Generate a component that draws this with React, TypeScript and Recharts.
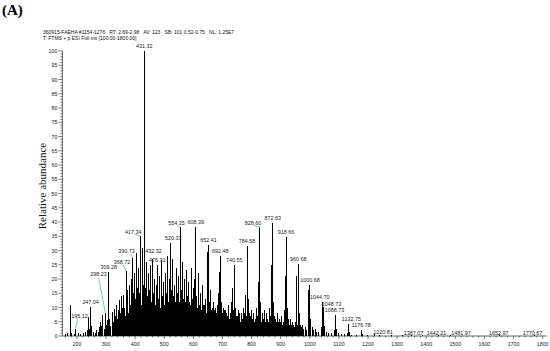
import React from 'react'
import { ComposedChart, Bar, XAxis, YAxis, LabelList } from 'recharts'

// unlabelled peaks (m/z, relative abundance %)
const peakMz = [
  160, 168, 177, 183, 190, 205, 212, 221, 229, 235, 239, 243, 251, 256, 263, 268, 273, 277, 281, 285,
  289, 293, 301, 305, 313, 317, 321, 325, 329, 333, 337, 340, 343, 347, 350, 353, 357, 361, 364, 372,
  375, 379, 382, 386, 394, 398, 401, 404, 408, 411, 414, 420, 424, 427, 435, 438, 441, 445, 448, 452,
  455, 458, 462, 465, 469, 472, 480, 483, 486, 490, 494, 497, 500, 503, 507, 511, 514, 517, 524, 527,
  531, 535, 538, 542, 546, 549, 558, 562, 566, 569, 573, 577, 581, 585, 589, 593, 597, 601, 605, 612,
  616, 620, 624, 628, 632, 636, 640, 645, 649, 656, 660, 664, 668, 672, 676, 680, 684, 688, 690, 696,
  700, 704, 708, 712, 716, 720, 724, 728, 732, 736, 744, 748, 752, 756, 760, 764, 768, 772, 776, 780,
  788, 792, 796, 800, 804, 808, 812, 816, 820, 824, 832, 836, 840, 844, 848, 852, 856, 860, 864, 868,
  876, 880, 884, 888, 892, 896, 900, 904, 908, 912, 915, 922, 926, 930, 934, 938, 942, 946, 950, 956,
  964, 968, 972, 976, 980, 984, 990, 996, 1004, 1008, 1012, 1018, 1024, 1030, 1040, 1052, 1058, 1066, 1074, 1084,
  1092, 1100, 1110, 1120, 1128, 1136, 1145, 1160, 1180, 1200, 1240, 1280, 1320, 1350,
]
const peakAbundance = [
  0.8, 1.2, 10.8, 1.0, 0.8, 1.0, 0.6, 1.2, 1.5, 2.0, 6.8, 2.5, 3.5, 1.5, 1.0, 2.0, 1.5, 3.0, 5.0, 3.5,
  7.2, 2.5, 4.0, 5.5, 6.0, 3.5, 8.5, 5.0, 9.5, 7.0, 11.0, 6.0, 9.0, 12.5, 8.0, 14.0, 10.0, 14.5, 8.0, 12.0,
  16.0, 18.0, 11.0, 20.0, 15.0, 22.0, 13.0, 29.0, 17.0, 24.0, 15.0, 21.0, 31.0, 18.0, 17.0, 26.0, 14.0, 22.0, 16.0, 25.0,
  12.0, 27.0, 15.0, 20.0, 11.0, 18.0, 13.0, 21.0, 10.0, 26.7, 14.0, 19.0, 11.0, 22.0, 15.0, 28.0, 12.0, 20.0, 16.0, 27.0,
  14.0, 18.0, 10.0, 24.0, 15.0, 21.0, 16.0, 26.0, 13.0, 20.0, 12.0, 23.0, 14.0, 19.0, 11.0, 24.0, 13.0, 17.0, 20.0, 14.0,
  22.0, 10.0, 15.0, 9.0, 18.0, 11.0, 13.0, 8.0, 29.5, 12.0, 16.0, 9.0, 12.0, 8.0, 10.0, 7.0, 11.0, 15.0, 22.6, 12.0,
  8.0, 10.0, 6.0, 9.0, 7.0, 11.0, 6.0, 8.0, 12.0, 17.0, 10.0, 7.0, 5.0, 9.0, 6.0, 8.0, 5.0, 10.0, 7.0, 14.4,
  13.0, 8.0, 6.0, 9.0, 5.0, 8.0, 6.0, 10.0, 7.0, 19.0, 12.0, 8.0, 6.0, 9.0, 5.0, 8.0, 6.0, 10.0, 7.0, 24.9,
  12.0, 7.0, 5.0, 8.0, 5.0, 6.0, 4.0, 7.0, 5.0, 9.0, 21.0, 10.0, 6.0, 4.0, 6.0, 4.0, 5.0, 3.0, 5.0, 21.0,
  8.0, 4.0, 3.0, 4.0, 2.5, 3.0, 2.0, 16.0, 6.0, 3.0, 2.0, 2.5, 1.5, 1.5, 3.0, 3.5, 1.5, 1.0, 1.0, 2.0,
  2.5, 1.0, 0.8, 0.6, 1.2, 1.5, 0.5, 0.4, 0.6, 0.4, 0.3, 0.3, 0.2, 0.2,
]

// low-level ion forest between the main peaks
const baseMz = [
  331, 335, 339, 345, 349, 355, 359, 363, 367, 370, 377, 384, 388, 392, 396, 400, 406, 410, 416, 419,
  422, 429, 434, 437, 443, 447, 450, 454, 460, 464, 467, 471, 474, 478, 482, 488, 492, 496, 499, 505,
  509, 513, 516, 519, 522, 529, 533, 537, 540, 544, 548, 552, 556, 560, 564, 568, 571, 575, 579, 583,
  587, 591, 595, 599, 603, 607, 610, 614, 618, 622, 626, 630, 634, 638, 642, 647, 651, 654, 658, 662,
  666, 670, 674, 678, 682, 686, 694, 698, 702, 706, 710, 714, 718, 722, 726, 730, 734, 738, 742, 746,
  750, 754, 758, 762, 766, 770, 774, 778, 782, 786, 790, 794, 798, 802, 806, 810, 814, 818, 822, 826,
  830, 834, 838, 842, 846, 850, 854, 858, 862, 866, 870, 874, 878, 882, 886, 890, 894, 898, 902, 906,
  910, 920, 924, 928, 932, 936, 940, 944, 948, 952, 958, 962, 966, 970, 974, 978, 986, 994, 1002, 1020,
]
const baseAbundance = [
  4, 6, 5, 7, 6, 9, 8, 10, 7, 9, 8, 11, 9, 12, 10, 11, 13, 10, 12, 9,
  11, 10, 12, 9, 11, 10, 13, 9, 11, 10, 12, 8, 11, 10, 12, 9, 11, 10, 12, 9,
  11, 10, 12, 8, 11, 10, 9, 12, 8, 11, 10, 12, 9, 11, 10, 12, 8, 11, 9, 10,
  12, 8, 11, 9, 10, 12, 8, 10, 9, 11, 8, 10, 9, 11, 8, 10, 9, 11, 8, 9,
  10, 7, 9, 8, 10, 7, 9, 8, 7, 9, 6, 8, 7, 9, 6, 8, 7, 9, 6, 8,
  7, 6, 8, 5, 7, 6, 8, 5, 7, 6, 8, 5, 7, 6, 7, 5, 6, 7, 5, 6,
  7, 5, 6, 5, 7, 4, 6, 5, 6, 4, 6, 5, 4, 6, 4, 5, 4, 5, 3, 4,
  5, 4, 3, 4, 3, 4, 3, 4, 3, 3, 4, 3, 2.5, 3, 2, 2.5, 2, 2, 2, 1.5,
]

// annotated peaks
const labeledMz = [
  195.12, 247.04, 298.23, 309.28, 368.72, 390.73, 417.34, 431.32, 432.32, 476.31, 520.33, 554.35, 608.39,
  652.41, 692.48, 740.55, 784.58, 828.6, 872.63, 918.66, 960.68, 1000.68, 1044.7, 1048.73, 1088.73,
  1132.75, 1176.78, 1220.81, 1387.07, 1442.21, 1481.97, 1652.97, 1770.67,
]
const labeledAbundance = [
  2.5, 10.3, 7.9, 22.5, 22.9, 27.4, 35, 100, 29.5, 24.9, 32.7, 38.2, 38.2,
  31.9, 28, 25, 31.6, 38.2, 39.8, 34.7, 25.1, 18, 12, 10.2, 7.4,
  4.2, 2.1, 0.6, 0.3, 0.3, 0.3, 0.3, 0.3,
]

const xMajorTicks = [200, 300, 400, 500, 600, 700, 800, 900, 1000, 1100, 1200, 1300, 1400, 1500, 1600, 1700, 1800]
const yMajorTicks = [0, 5, 10, 15, 20, 25, 30, 35, 40, 45, 50, 55, 60, 65, 70, 75, 80, 85, 90, 95, 100]

const headerLines = [
  '360915-FAEHA #1154-1276   RT: 2.69-2.98   AV: 123   SB: 101 0.52-0.75   NL: 1.25E7',
  'T: FTMS + p ESI Full ms [100.00-1800.00]',
]

const data = [
  ...peakMz.map((mz, i) => ({ mz, abundance: peakAbundance[i], label: '' })),
  ...baseMz.map((mz, i) => ({ mz, abundance: baseAbundance[i], label: '' })),
  ...labeledMz.map((mz, i) => ({ mz, abundance: labeledAbundance[i], label: mz.toFixed(2) })),
].sort((a, b) => a.mz - b.mz)

const xTicks: number[] = []
for (let t = 160; t <= 1800; t += 20) xTicks.push(t)
const yTicks: number[] = []
for (let t = 0; t <= 100; t += 1) yTicks.push(t)

// label placement relative to the peak top; lead = start of green leader line from the label centre
const labelLayout: Record<string, { dx?: number; dy?: number; lead?: [number, number] }> = {
  '195.12': { dx: 4, dy: -13, lead: [-2, 3] },
  '298.23': { dx: -7, dy: -39, lead: [0, 3] },
  '368.72': { dx: -4, dy: -9, lead: [1, 3] },
  '390.73': { dx: -6, dy: -7, lead: [5, 2.5] },
  '417.34': { dx: -7, dy: -4.5, lead: [2, 2.5] },
  '432.32': { dx: 9, dy: -1, lead: [-8, 1] },
  '520.33': { dx: 3 },
  '554.35': { dx: -3.5, dy: -4.5, lead: [1, 3] },
  '828.60': { dx: -7, dy: -4.5, lead: [1, 3] },
  '1044.70': { dx: -3 },
  '1048.73': { dx: 7.5, dy: -3, lead: [-8, 3] },
  '1088.73': { dx: -1 },
  '1132.75': { dx: 3 },
  '1220.81': { dx: 9, dy: -2.5, lead: [-10, 2] },
  '1387.07': { dx: -9, dy: -2.5 },
  '1442.21': { dx: -2, dy: -2.5 },
  '1481.97': { dx: 11, dy: -2.5 },
  '1652.97': { dx: -1, dy: -2.5 },
  '1770.67': { dx: -1.5, dy: -2.5 },
}

const sans = '"Liberation Sans", Arial, sans-serif'
const serif = '"Liberation Serif", "Times New Roman", serif'

// eslint-disable-next-line @typescript-eslint/no-explicit-any
const PeakLabel = (props: any) => {
  const { x, y, width, value } = props
  if (!value) return null
  const lay = labelLayout[value] || {}
  const px = Number(x) + Number(width) / 2
  const top = Number(y)
  const cx = px + (lay.dx ?? 0)
  const cy = top + (lay.dy ?? -5)
  return (
    <g>
      {lay.lead && (
        <line x1={cx + lay.lead[0]} y1={cy + lay.lead[1]} x2={px} y2={top} stroke="#3ad66a" strokeWidth={0.8} />
      )}
      <text x={cx} y={cy} textAnchor="middle" dominantBaseline="central" fontSize={5.4} fill="#222" fontFamily={sans}>
        {value}
      </text>
    </g>
  )
}

// draw every peak as a 1px stick centred on its m/z, whatever band width recharts computed
// eslint-disable-next-line @typescript-eslint/no-explicit-any
const PeakStick = (props: any) => {
  const { x, y, width, height } = props
  if (!height) return null
  const cx = Number(x) + Number(width) / 2
  return <rect x={Math.round(cx - 0.5)} y={y} width={1} height={height} fill="#000" shapeRendering="crispEdges" />
}

// eslint-disable-next-line @typescript-eslint/no-explicit-any
const YTick = ({ x, y, payload }: any) => {
  const v = payload.value
  const major = yMajorTicks.includes(v)
  return (
    <g>
      <line x1={x - (major ? 4 : 2)} y1={y} x2={x} y2={y} stroke="#000" strokeWidth={0.5} />
      {major && (
        <text x={x - 5} y={y} textAnchor="end" dominantBaseline="central" fontSize={5.3} fill="#222" fontFamily={sans}>
          {v}
        </text>
      )}
    </g>
  )
}

// eslint-disable-next-line @typescript-eslint/no-explicit-any
const XTick = ({ x, y, payload }: any) => {
  const v = payload.value
  const major = xMajorTicks.includes(v)
  return (
    <g>
      <line x1={x} y1={y} x2={x} y2={y + (major ? 3 : 1.5)} stroke="#000" strokeWidth={0.5} />
      {major && (
        <text x={x} y={y + 8} textAnchor="middle" dominantBaseline="central" fontSize={5.3} fill="#222" fontFamily={sans}>
          {v}
        </text>
      )}
    </g>
  )
}

export default function App() {
  return (
    <div style={{ position: 'absolute', left: 0, top: 0, width: 550, height: 351, background: '#fff' }}>
      <div style={{ position: 'absolute', left: 2, top: 1, fontFamily: serif, fontWeight: 'bold', fontSize: 15, lineHeight: '18px' }}>
        (A)
      </div>
      {headerLines.map((line, i) => (
        <div
          key={i}
          style={{
            position: 'absolute',
            left: 43,
            top: 29 + i * 6,
            fontFamily: sans,
            fontSize: 5,
            lineHeight: '6px',
            whiteSpace: 'pre',
            color: '#111',
          }}
        >
          {line}
        </div>
      ))}
      <div
        style={{
          position: 'absolute',
          left: 42,
          top: 186,
          transform: 'translate(-50%, -50%) rotate(-90deg)',
          fontFamily: serif,
          fontSize: 11,
          whiteSpace: 'nowrap',
          color: '#111',
        }}
      >
        Relative abundance
      </div>
      <div style={{ position: 'absolute', left: 0, top: 0 }}>
        <ComposedChart width={550} height={351} data={data} margin={{ top: 51, right: 3, bottom: 0, left: 0 }}>
          <XAxis
            dataKey="mz"
            type="number"
            domain={[150, 1815]}
            ticks={xTicks}
            interval={0}
            height={15}
            tickSize={0}
            tickMargin={0}
            tickLine={false}
            tick={<XTick />}
            axisLine={{ stroke: '#000', strokeWidth: 0.6 }}
            allowDataOverflow
          />
          <YAxis
            type="number"
            domain={[0, 100]}
            ticks={yTicks}
            interval={0}
            width={62.4}
            tickSize={0}
            tickMargin={0}
            tickLine={false}
            tick={<YTick />}
            axisLine={{ stroke: '#000', strokeWidth: 0.6 }}
            allowDataOverflow
          />
          <Bar dataKey="abundance" fill="#000" barSize={1} shape={PeakStick} isAnimationActive={false}>
            <LabelList dataKey="label" content={PeakLabel} />
          </Bar>
        </ComposedChart>
      </div>
    </div>
  )
}
